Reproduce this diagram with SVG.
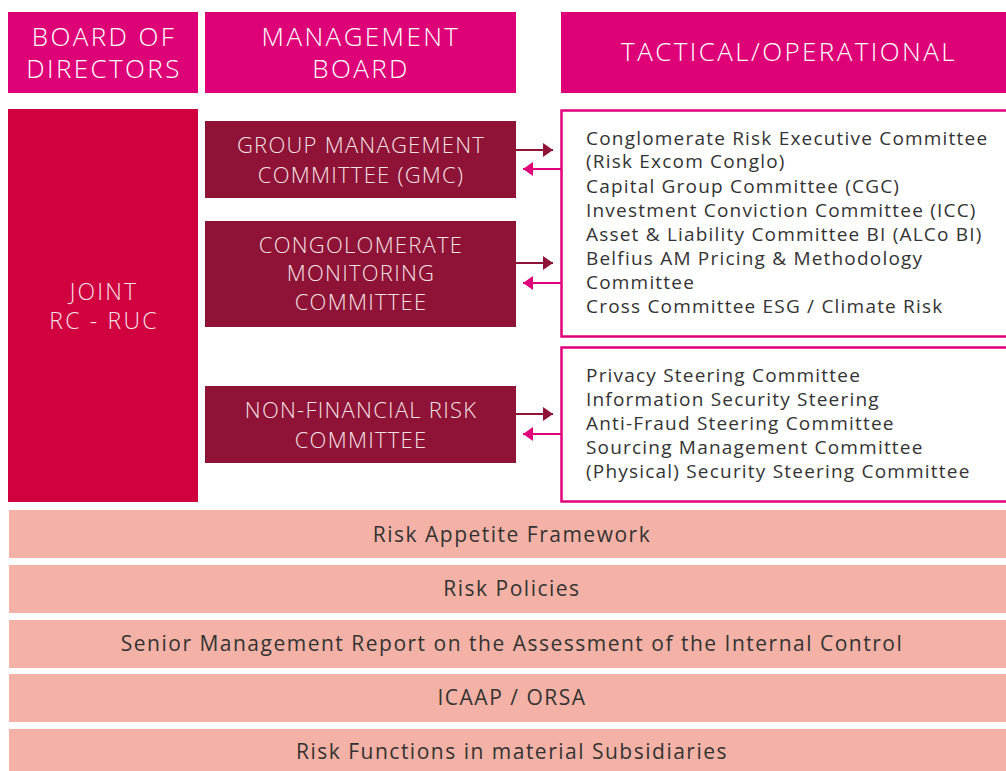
<svg xmlns="http://www.w3.org/2000/svg" width="1006" height="771" viewBox="0 0 1006 771">
<defs>
<style>
.hdr{fill:#de0077}
.hdrt{fill:#ffffff;font-family:"Open Sans","Liberation Sans",sans-serif;font-size:26px;font-weight:300;text-anchor:middle;letter-spacing:2.4px}
.joint{fill:#d1003f}
.dark{fill:#8f1336}
.darkt{fill:#f4e1e6;font-family:"Open Sans","Liberation Sans",sans-serif;font-size:22px;font-weight:300;text-anchor:middle;letter-spacing:1.25px}
.jt{fill:#f4e1e6;font-family:"Open Sans","Liberation Sans",sans-serif;font-size:23px;font-weight:300;text-anchor:middle;letter-spacing:2.2px}
.list{fill:#ffffff;stroke:#e0007a;stroke-width:2.5}
.listt{fill:#333333;font-family:"Open Sans","Liberation Sans",sans-serif;font-size:19px;font-weight:400;letter-spacing:1.2px}
.bar{fill:#f4b2a6}
.bart{fill:#333333;font-family:"Open Sans","Liberation Sans",sans-serif;font-size:21px;font-weight:400;text-anchor:middle;letter-spacing:1.5px}
.out{stroke:#8f1336;stroke-width:2;fill:none}
.back{stroke:#e0007a;stroke-width:2;fill:none}
</style>
<marker id="ad" viewBox="0 0 10 14" refX="10" refY="7" markerWidth="10" markerHeight="14" markerUnits="userSpaceOnUse" orient="auto"><path d="M0,0 L10,7 L0,14 Z" fill="#8f1336"/></marker>
<marker id="ap" viewBox="0 0 10 14" refX="10" refY="7" markerWidth="10" markerHeight="14" markerUnits="userSpaceOnUse" orient="auto"><path d="M0,0 L10,7 L0,14 Z" fill="#e0007a"/></marker>
</defs>
<rect width="1006" height="771" fill="#ffffff"/>

<g id="board-of-directors">
<rect class="hdr" x="8" y="12" width="190" height="81"/>
<text class="hdrt" x="104" y="46">BOARD OF</text>
<text class="hdrt" x="104" y="78">DIRECTORS</text>
</g>
<g id="management-board">
<rect class="hdr" x="205" y="12" width="311" height="81"/>
<text class="hdrt" x="361" y="46">MANAGEMENT</text>
<text class="hdrt" x="361" y="78">BOARD</text>
</g>
<g id="tactical-operational">
<rect class="hdr" x="561" y="12" width="445" height="81"/>
<text class="hdrt" x="789" y="61">TACTICAL/OPERATIONAL</text>
</g>

<g id="joint-rc-ruc">
<rect class="joint" x="8" y="109" width="190" height="393"/>
<text class="jt" x="104" y="300">JOINT</text>
<text class="jt" x="104" y="329">RC - RUC</text>
</g>

<g id="gmc">
<rect class="dark" x="205" y="121" width="311" height="77"/>
<text class="darkt" x="361" y="153">GROUP MANAGEMENT</text>
<text class="darkt" x="361" y="183">COMMITTEE (GMC)</text>
</g>
<g id="cmc">
<rect class="dark" x="205" y="221" width="311" height="106"/>
<text class="darkt" x="361" y="253">CONGOLOMERATE</text>
<text class="darkt" x="361" y="281">MONITORING</text>
<text class="darkt" x="361" y="310">COMMITTEE</text>
</g>
<g id="nfrc">
<rect class="dark" x="205" y="386" width="311" height="77"/>
<text class="darkt" x="361" y="418">NON-FINANCIAL RISK</text>
<text class="darkt" x="361" y="448">COMMITTEE</text>
</g>

<g id="financial-committees">
<rect class="list" x="561.5" y="110.5" width="446" height="226"/>
<text class="listt" x="586" y="145">Conglomerate Risk Executive Committee</text>
<text class="listt" x="586" y="168">(Risk Excom Conglo)</text>
<text class="listt" x="586" y="193">Capital Group Committee (CGC)</text>
<text class="listt" x="586" y="217">Investment Conviction Committee (ICC)</text>
<text class="listt" x="586" y="241">Asset &amp; Liability Committee BI (ALCo BI)</text>
<text class="listt" x="586" y="265">Belfius AM Pricing &amp; Methodology</text>
<text class="listt" x="586" y="289">Committee</text>
<text class="listt" x="586" y="313">Cross Committee ESG / Climate Risk</text>
</g>
<g id="non-financial-committees">
<rect class="list" x="561.5" y="347.5" width="446" height="154"/>
<text class="listt" x="586" y="382">Privacy Steering Committee</text>
<text class="listt" x="586" y="406">Information Security Steering</text>
<text class="listt" x="586" y="430">Anti-Fraud Steering Committee</text>
<text class="listt" x="586" y="454">Sourcing Management Committee</text>
<text class="listt" x="586" y="478">(Physical) Security Steering Committee</text>
</g>

<g id="connectors">
<line class="out" x1="516" y1="150" x2="553" y2="150" marker-end="url(#ad)"/>
<line class="back" x1="561" y1="169" x2="523" y2="169" marker-end="url(#ap)"/>
<line class="out" x1="516" y1="263" x2="553" y2="263" marker-end="url(#ad)"/>
<line class="back" x1="561" y1="283" x2="523" y2="283" marker-end="url(#ap)"/>
<line class="out" x1="516" y1="414" x2="553" y2="414" marker-end="url(#ad)"/>
<line class="back" x1="561" y1="434" x2="523" y2="434" marker-end="url(#ap)"/>
</g>

<g id="risk-appetite-framework">
<rect class="bar" x="9" y="510" width="997" height="48"/>
<text class="bart" x="512" y="542">Risk Appetite Framework</text>
</g>
<g id="risk-policies">
<rect class="bar" x="9" y="565" width="997" height="48"/>
<text class="bart" x="512" y="596">Risk Policies</text>
</g>
<g id="senior-management-report">
<rect class="bar" x="9" y="620" width="997" height="48"/>
<text class="bart" x="512" y="651">Senior Management Report on the Assessment of the Internal Control</text>
</g>
<g id="icaap-orsa">
<rect class="bar" x="9" y="674" width="997" height="48"/>
<text class="bart" x="512" y="705">ICAAP / ORSA</text>
</g>
<g id="risk-functions">
<rect class="bar" x="9" y="729" width="997" height="42"/>
<text class="bart" x="512" y="759">Risk Functions in material Subsidiaries</text>
</g>
</svg>
